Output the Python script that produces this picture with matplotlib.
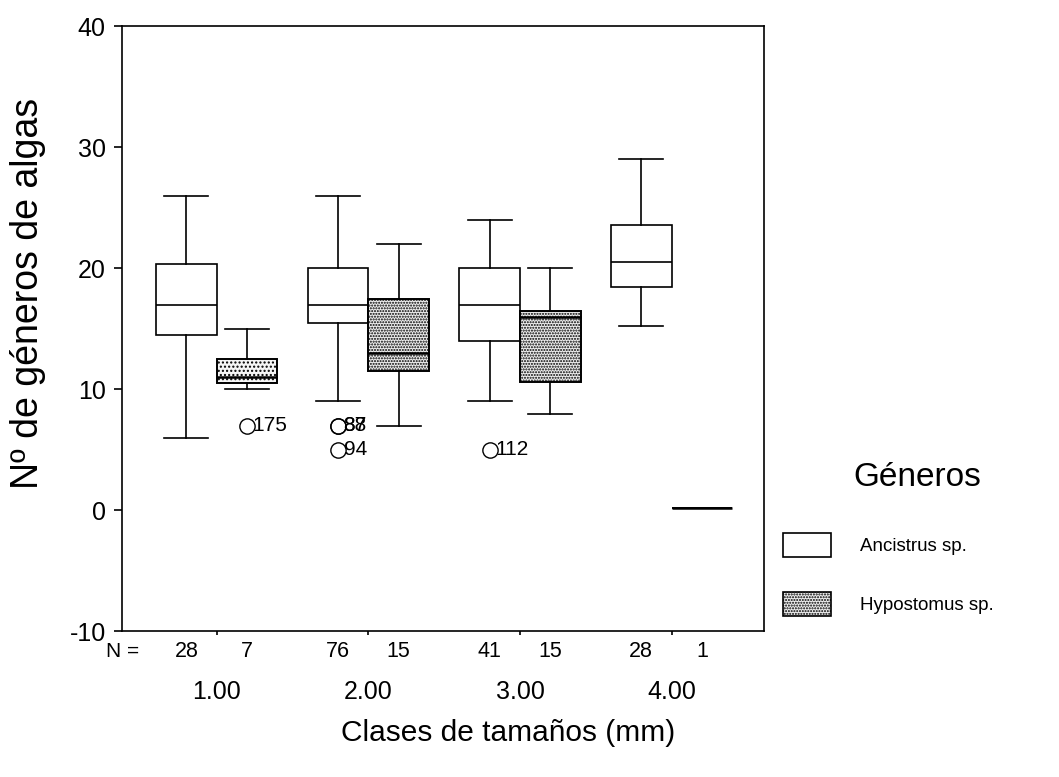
import numpy as np
import matplotlib
matplotlib.use("Agg")
import matplotlib.pyplot as plt
from matplotlib.patches import Patch
from matplotlib.transforms import blended_transform_factory

plt.rcParams['font.family'] = ['Liberation Sans', 'DejaVu Sans']
plt.rcParams['axes.unicode_minus'] = False
plt.rcParams['hatch.color'] = '#555555'
plt.rcParams['hatch.linewidth'] = 1.0

clases = ["1.00", "2.00", "3.00", "4.00"]
generos = ["Ancistrus sp.", "Hypostomus sp."]

# Ancistrus sp.: bigotes, cuartiles y mediana por clase
anc_whislo = [6, 9, 9, 15.2]
anc_q1 = [14.5, 15.5, 14, 18.5]
anc_med = [17, 17, 17, 20.5]
anc_q3 = [20.4, 20, 20, 23.6]
anc_whishi = [26, 26, 24, 29]
anc_n = [28, 76, 41, 28]
anc_out = [[], [7, 7, 5], [5], []]
anc_out_id = [[], ["87", "88", "94"], ["112"], []]

# Hypostomus sp.
hyp_whislo = [10, 7, 8, 0.2]
hyp_q1 = [10.5, 11.5, 10.6, 0.2]
hyp_med = [11, 13, 16, 0.2]
hyp_q3 = [12.5, 17.5, 16.5, 0.2]
hyp_whishi = [15, 22, 20, 0.2]
hyp_n = [7, 15, 15, 1]
hyp_out = [[7], [], [], []]
hyp_out_id = [["175"], [], [], []]


def make_stats(lo, q1, med, q3, hi, out):
    return [dict(whislo=a, q1=b, med=c, q3=d, whishi=e, fliers=f)
            for a, b, c, d, e, f in zip(lo, q1, med, q3, hi, out)]


pos = np.arange(1, 5)
w = 0.4

fig = plt.figure(figsize=(10.59, 7.77), dpi=100)
ax = fig.add_axes([0.1155, 0.1873, 0.6059, 0.7789])

line = dict(color='black', linewidth=1.2)
flier = dict(marker='o', markersize=11, markerfacecolor='none',
             markeredgecolor='black', markeredgewidth=1.0, linestyle='none')

ax.bxp(make_stats(anc_whislo, anc_q1, anc_med, anc_q3, anc_whishi, anc_out),
       positions=pos - w / 2, widths=w, capwidths=0.29, patch_artist=True,
       boxprops=dict(facecolor='white', edgecolor='black', linewidth=1.2),
       medianprops=line, whiskerprops=line, capprops=line,
       flierprops=flier, manage_ticks=False)
hyp = ax.bxp(make_stats(hyp_whislo, hyp_q1, hyp_med, hyp_q3, hyp_whishi, hyp_out),
             positions=pos + w / 2, widths=w, capwidths=0.29, patch_artist=True,
             boxprops=dict(facecolor='#eeeeee', edgecolor='black', linewidth=1.4),
             medianprops=dict(color='black', linewidth=1.8), whiskerprops=line,
             capprops=line, flierprops=flier, manage_ticks=False)
# punteado más claro en la primera clase
for box, h in zip(hyp['boxes'], ['....', '......', '......', '......']):
    box.set_hatch(h)
hyp['boxes'][0].set_facecolor('#f6f6f6')

# etiquetas de los casos atípicos
for xs, outs, ids in [(pos - w / 2, anc_out, anc_out_id),
                      (pos + w / 2, hyp_out, hyp_out_id)]:
    for x, vals, names in zip(xs, outs, ids):
        for v, name in zip(vals, names):
            ax.annotate(name, (x, v), xytext=(4, 0), textcoords='offset points',
                        ha='left', va='center', fontsize=15)

ax.set_xlim(0.377, 4.609)
ax.set_ylim(-10, 40)
ax.set_yticks([-10, 0, 10, 20, 30, 40])
ax.set_xticks(pos, clases)
ax.tick_params(axis='y', length=6, width=1.2, pad=6, labelsize=18)
ax.tick_params(axis='x', length=3, width=1.2, pad=32, labelsize=18)
for s in ax.spines.values():
    s.set_linewidth(1.2)

# tamaños de muestra bajo el eje
trans = blended_transform_factory(ax.transData, ax.transAxes)
ax.text(0, -0.033, "N =", transform=ax.transAxes, ha='center', va='center', fontsize=15)
for x, n in zip(pos - w / 2, anc_n):
    ax.text(x, -0.033, str(n), transform=trans, ha='center', va='center', fontsize=15.5)
for x, n in zip(pos + w / 2, hyp_n):
    ax.text(x, -0.033, str(n), transform=trans, ha='center', va='center', fontsize=15.5)

handles = [Patch(facecolor='white', edgecolor='black', linewidth=1.2),
           Patch(facecolor='#eeeeee', edgecolor='black', linewidth=1.2, hatch='......')]
fig.legend(handles, generos, loc='upper left',
           bbox_to_anchor=(783.3 / 1059, 1 - 533.3 / 777), frameon=False,
           fontsize=13.5, handlelength=2.53, handleheight=1.6, labelspacing=1.85,
           handletextpad=1.55, borderpad=0, borderaxespad=0)
fig.text(917 / 1059, 1 - 477.5 / 777, "Géneros", ha='center', va='center', fontsize=24)

fig.text(508 / 1059, 1 - 733 / 777, "Clases de tamaños (mm)", ha='center', va='center', fontsize=21.5)
fig.text(28 / 1059, 1 - 293 / 777, "Nº de géneros de algas", rotation=90,
         ha='center', va='center', fontsize=27)

fig.savefig('out.png', dpi=100)
